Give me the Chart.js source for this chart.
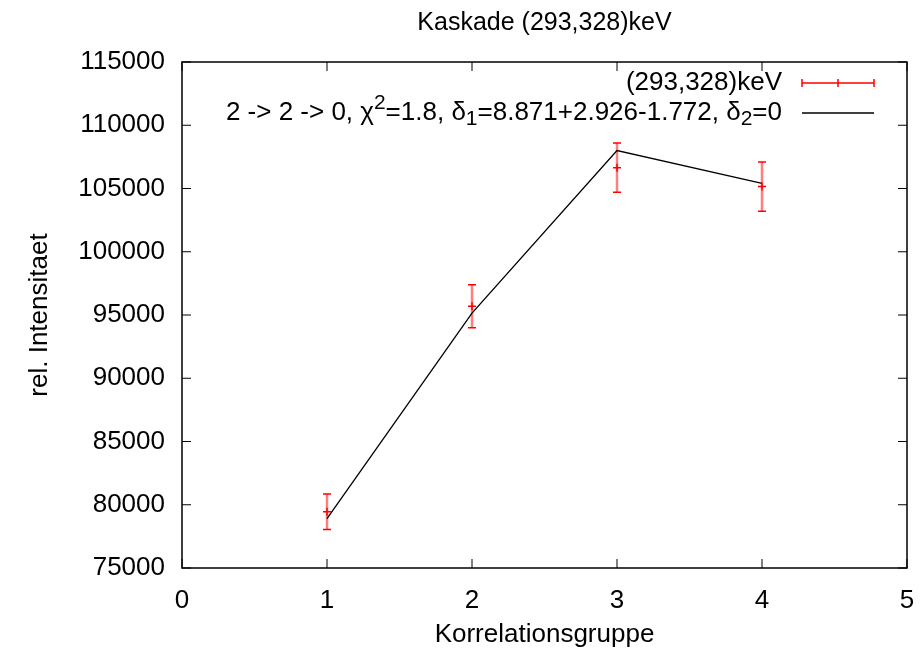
<!DOCTYPE html>
<html>
<head>
<meta charset="utf-8">
<script src="https://cdn.jsdelivr.net/npm/chart.js@4/dist/chart.umd.min.js"></script>
<style>
  html, body { margin: 0; padding: 0; background: #fff; }
  #wrap { width: 924px; height: 654px; }
</style>
</head>
<body>
<div id="wrap"><canvas id="kaskadeChart" width="924" height="654"></canvas></div>
<script>
const groups = [1, 2, 3, 4];
const intensity = [79450, 95700, 106650, 105150];
const intensityErr = [1400, 1700, 1950, 1950];
const fitValues = [78900, 95150, 108000, 105400];

const xTicks = [0, 1, 2, 3, 4, 5];
const yTicks = [75000, 80000, 85000, 90000, 95000, 100000, 105000, 110000, 115000];

const titleText = "Kaskade (293,328)keV";
const xTitle = "Korrelationsgruppe";
const yTitle = "rel. Intensitaet";
const dataLabel = "(293,328)keV";
// [text, shift] shift: 1 = superscript, -1 = subscript
const fitLabel = [
  ["2 -> 2 -> 0, \u03c7", 0], ["2", 1], ["=1.8, \u03b4", 0], ["1", -1],
  ["=8.871+2.926-1.772, \u03b4", 0], ["2", -1], ["=0", 0]
];

const FONT = "'Liberation Sans', Arial, Helvetica, sans-serif";
const RED = "#ff0000";

// error bars, frame, inward ticks, title and key in gnuplot style
const gnuplotLook = {
    id: "gnuplotLook",
    beforeDatasetsDraw(chart) {
        const ctx = chart.ctx;
        const xs = chart.scales.x, ys = chart.scales.y;
        ctx.save();
        groups.forEach((g, i) => {
            const px = xs.getPixelForValue(g);
            const top = ys.getPixelForValue(intensity[i] + intensityErr[i]);
            const bot = ys.getPixelForValue(intensity[i] - intensityErr[i]);
            ctx.strokeStyle = "rgba(255,0,0,0.5)";
            ctx.lineWidth = 2.5;
            ctx.beginPath();
            ctx.moveTo(px, top);
            ctx.lineTo(px, bot);
            ctx.stroke();
            ctx.strokeStyle = RED;
            ctx.lineWidth = 1.5;
            ctx.beginPath();
            ctx.moveTo(px - 4, top); ctx.lineTo(px + 4, top);
            ctx.moveTo(px - 4, bot); ctx.lineTo(px + 4, bot);
            ctx.stroke();
        });
        ctx.restore();
    },
    afterDraw(chart) {
        const ctx = chart.ctx;
        const a = chart.chartArea;
        const xs = chart.scales.x, ys = chart.scales.y;
        const tl = 9;
        ctx.save();
        ctx.strokeStyle = "#000";
        ctx.lineWidth = 1.5;
        ctx.strokeRect(a.left, a.top, a.right - a.left, a.bottom - a.top);
        ctx.beginPath();
        xTicks.forEach(v => {
            const px = xs.getPixelForValue(v);
            ctx.moveTo(px, a.bottom); ctx.lineTo(px, a.bottom - tl);
            ctx.moveTo(px, a.top); ctx.lineTo(px, a.top + tl);
        });
        yTicks.forEach(v => {
            const py = ys.getPixelForValue(v);
            ctx.moveTo(a.left, py); ctx.lineTo(a.left + tl, py);
            ctx.moveTo(a.right, py); ctx.lineTo(a.right - tl, py);
        });
        ctx.lineWidth = 1;
        ctx.stroke();

        // title, centred over the frame
        ctx.fillStyle = "#000";
        ctx.textBaseline = "middle";
        ctx.textAlign = "center";
        ctx.font = "25px " + FONT;
        ctx.fillText(titleText, (a.left + a.right) / 2, 23);

        // key, top right inside the frame
        const textRight = 782, sx0 = 802, sx1 = 874;
        const row1 = 83, row2 = 113;
        ctx.font = "26px " + FONT;
        ctx.textAlign = "right";
        ctx.fillText(dataLabel, textRight, row1);

        ctx.strokeStyle = RED;
        ctx.lineWidth = 1.5;
        ctx.beginPath();
        ctx.moveTo(sx0, row1); ctx.lineTo(sx1, row1);
        ctx.moveTo(sx0, row1 - 4); ctx.lineTo(sx0, row1 + 4);
        ctx.moveTo(sx1, row1 - 4); ctx.lineTo(sx1, row1 + 4);
        ctx.moveTo((sx0 + sx1) / 2, row1 - 4); ctx.lineTo((sx0 + sx1) / 2, row1 + 4);
        ctx.stroke();

        ctx.textAlign = "left";
        const segFont = s => (s[1] === 0 ? "26px " : "21px ") + FONT;
        let total = 0;
        fitLabel.forEach(s => { ctx.font = segFont(s); total += ctx.measureText(s[0]).width; });
        let x = textRight - total;
        fitLabel.forEach(s => {
            ctx.font = segFont(s);
            const dy = s[1] === 1 ? -10 : (s[1] === -1 ? 6 : 0);
            ctx.fillText(s[0], x, row2 + dy);
            x += ctx.measureText(s[0]).width;
        });
        ctx.strokeStyle = "#000";
        ctx.lineWidth = 1.5;
        ctx.beginPath();
        ctx.moveTo(sx0, row2); ctx.lineTo(sx1, row2);
        ctx.stroke();
        ctx.restore();
    }
};

document.addEventListener("DOMContentLoaded", function () {
    const ctx = document.getElementById("kaskadeChart").getContext("2d");
    new Chart(ctx, {
        type: "scatter",
        data: {
            datasets: [
                {
                    label: dataLabel,
                    data: groups.map((g, i) => ({ x: g, y: intensity[i] })),
                    pointStyle: "cross",
                    pointRadius: 4,
                    borderColor: RED,
                    borderWidth: 1.5,
                    showLine: false
                },
                {
                    label: "fit",
                    data: groups.map((g, i) => ({ x: g, y: fitValues[i] })),
                    showLine: true,
                    borderColor: "#000",
                    borderWidth: 1.3,
                    pointRadius: 0,
                    tension: 0
                }
            ]
        },
        options: {
            responsive: false,
            animation: false,
            layout: { padding: { left: 0, right: 17, top: 62, bottom: 0 } },
            plugins: {
                legend: { display: false },
                tooltip: { enabled: false },
                title: { display: false }
            },
            scales: {
                x: {
                    type: "linear",
                    min: 0, max: 5,
                    afterBuildTicks: s => { s.ticks = xTicks.map(v => ({ value: v })); },
                    grid: { display: false, drawTicks: false },
                    border: { display: false },
                    ticks: {
                        color: "#000",
                        font: { family: FONT, size: 26 },
                        padding: 17,
                        maxRotation: 0,
                        callback: v => String(v)
                    },
                    title: {
                        display: true,
                        text: xTitle,
                        color: "#000",
                        font: { family: FONT, size: 26 },
                        padding: { top: 0, bottom: 4 }
                    },
                    afterFit: s => { s.height = 86; s.paddingLeft = 0; s.paddingRight = 0; }
                },
                y: {
                    type: "linear",
                    min: 75000, max: 115000,
                    afterBuildTicks: s => { s.ticks = yTicks.map(v => ({ value: v })); },
                    grid: { display: false, drawTicks: false },
                    border: { display: false },
                    ticks: {
                        color: "#000",
                        font: { family: FONT, size: 26 },
                        padding: 17,
                        callback: v => String(v)
                    },
                    title: {
                        display: true,
                        text: yTitle,
                        color: "#000",
                        font: { family: FONT, size: 26 },
                        padding: { top: 24, bottom: 0 }
                    },
                    afterFit: s => { s.width = 182; s.paddingTop = 0; s.paddingBottom = 0; }
                }
            }
        },
        plugins: [gnuplotLook]
    });
});
</script>
</body>
</html>
